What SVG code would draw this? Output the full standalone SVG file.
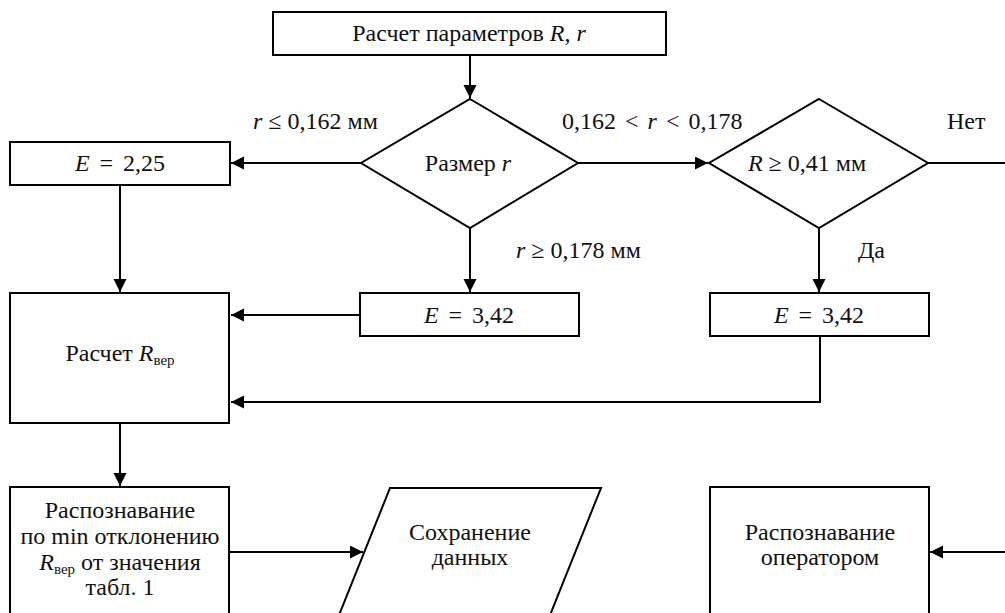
<svg xmlns="http://www.w3.org/2000/svg" width="1005" height="613" viewBox="0 0 1005 613">
<defs>
<marker id="ah" markerUnits="userSpaceOnUse" markerWidth="14" markerHeight="14" refX="13" refY="6.5" orient="auto">
<path d="M0,0 L13,6.5 L0,13 z" fill="#000"/>
</marker>
</defs>
<rect width="1005" height="613" fill="#fff"/>
<g id="connectors" fill="none" stroke="#000" stroke-width="2">
<path d="M470,55 V98" marker-end="url(#ah)"/>
<path d="M361,163 H231" marker-end="url(#ah)"/>
<path d="M578,163 H708" marker-end="url(#ah)"/>
<path d="M470,228 V292" marker-end="url(#ah)"/>
<path d="M120,185 V292" marker-end="url(#ah)"/>
<path d="M360,315 H231" marker-end="url(#ah)"/>
<path d="M819,228 V292" marker-end="url(#ah)"/>
<path d="M820,336 V402 H231" marker-end="url(#ah)"/>
<path d="M928,163 H1005"/>
<path d="M120,423 V486" marker-end="url(#ah)"/>
<path d="M229,552 H363" marker-end="url(#ah)"/>
<path d="M1005,552 H930" marker-end="url(#ah)"/>
</g>
<g id="labels" fill="#111" font-family="Times New Roman, Liberation Serif, serif" font-size="24">
<text x="253" y="129"><tspan font-style="italic">r</tspan> ≤ 0,162 мм</text>
<text x="562" y="129" word-spacing="3">0,162 &lt; <tspan font-style="italic">r</tspan> &lt; 0,178</text>
<text x="947" y="129">Нет</text>
<text x="516" y="258"><tspan font-style="italic">r</tspan> ≥ 0,178 мм</text>
<text x="858" y="258">Да</text>
</g>
<g id="n-start" font-family="Times New Roman, Liberation Serif, serif" font-size="24">
<rect x="273" y="12" width="393" height="43" fill="#fff" stroke="#000" stroke-width="2"/>
<text x="469" y="41" text-anchor="middle" fill="#111">Расчет параметров <tspan font-style="italic">R</tspan>, <tspan font-style="italic">r</tspan></text>
</g>
<g id="n-size" font-family="Times New Roman, Liberation Serif, serif" font-size="24">
<polygon points="470,99 578,163 470,228 361,163" fill="#fff" stroke="#000" stroke-width="2"/>
<text x="468" y="171" text-anchor="middle" fill="#111">Размер <tspan font-style="italic">r</tspan></text>
</g>
<g id="n-R" font-family="Times New Roman, Liberation Serif, serif" font-size="24">
<polygon points="819,99 928,163 819,228 709,163" fill="#fff" stroke="#000" stroke-width="2"/>
<text x="807" y="171" text-anchor="middle" fill="#111"><tspan font-style="italic">R</tspan> ≥ 0,41 мм</text>
</g>
<g id="n-e225" font-family="Times New Roman, Liberation Serif, serif" font-size="24">
<rect x="10" y="142" width="220" height="43" fill="#fff" stroke="#000" stroke-width="2"/>
<text x="120" y="171" text-anchor="middle" fill="#111" word-spacing="4"><tspan font-style="italic">E</tspan> = 2,25</text>
</g>
<g id="n-e342a" font-family="Times New Roman, Liberation Serif, serif" font-size="24">
<rect x="360" y="293" width="219" height="43" fill="#fff" stroke="#000" stroke-width="2"/>
<text x="469" y="323" text-anchor="middle" fill="#111" word-spacing="4"><tspan font-style="italic">E</tspan> = 3,42</text>
</g>
<g id="n-e342b" font-family="Times New Roman, Liberation Serif, serif" font-size="24">
<rect x="710" y="293" width="219" height="43" fill="#fff" stroke="#000" stroke-width="2"/>
<text x="819" y="323" text-anchor="middle" fill="#111" word-spacing="4"><tspan font-style="italic">E</tspan> = 3,42</text>
</g>
<g id="n-calc" font-family="Times New Roman, Liberation Serif, serif" font-size="24">
<rect x="10" y="293" width="219" height="130" fill="#fff" stroke="#000" stroke-width="2"/>
<text x="120" y="361" text-anchor="middle" fill="#111">Расчет <tspan font-style="italic">R</tspan><tspan font-size="15" dy="4">вер</tspan></text>
</g>
<g id="n-recog" font-family="Times New Roman, Liberation Serif, serif" font-size="24">
<rect x="10" y="487" width="219" height="160" fill="#fff" stroke="#000" stroke-width="2"/>
<text x="120" y="518" text-anchor="middle" fill="#111">Распознавание</text>
<text x="120" y="544" text-anchor="middle" fill="#111">по min отклонению</text>
<text x="120" y="570" text-anchor="middle" fill="#111"><tspan font-style="italic">R</tspan><tspan font-size="15" dy="4">вер</tspan><tspan dy="-4"> от значения</tspan></text>
<text x="120" y="595" text-anchor="middle" fill="#111">табл. 1</text>
</g>
<g id="n-save" font-family="Times New Roman, Liberation Serif, serif" font-size="24">
<polygon points="390,488 601,488 532,660 321,660" fill="#fff" stroke="#000" stroke-width="2"/>
<text x="470" y="540" text-anchor="middle" fill="#111">Сохранение</text>
<text x="470" y="565" text-anchor="middle" fill="#111">данных</text>
</g>
<g id="n-operator" font-family="Times New Roman, Liberation Serif, serif" font-size="24">
<rect x="710" y="487" width="219" height="160" fill="#fff" stroke="#000" stroke-width="2"/>
<text x="820" y="540" text-anchor="middle" fill="#111">Распознавание</text>
<text x="820" y="565" text-anchor="middle" fill="#111">оператором</text>
</g>
</svg>
